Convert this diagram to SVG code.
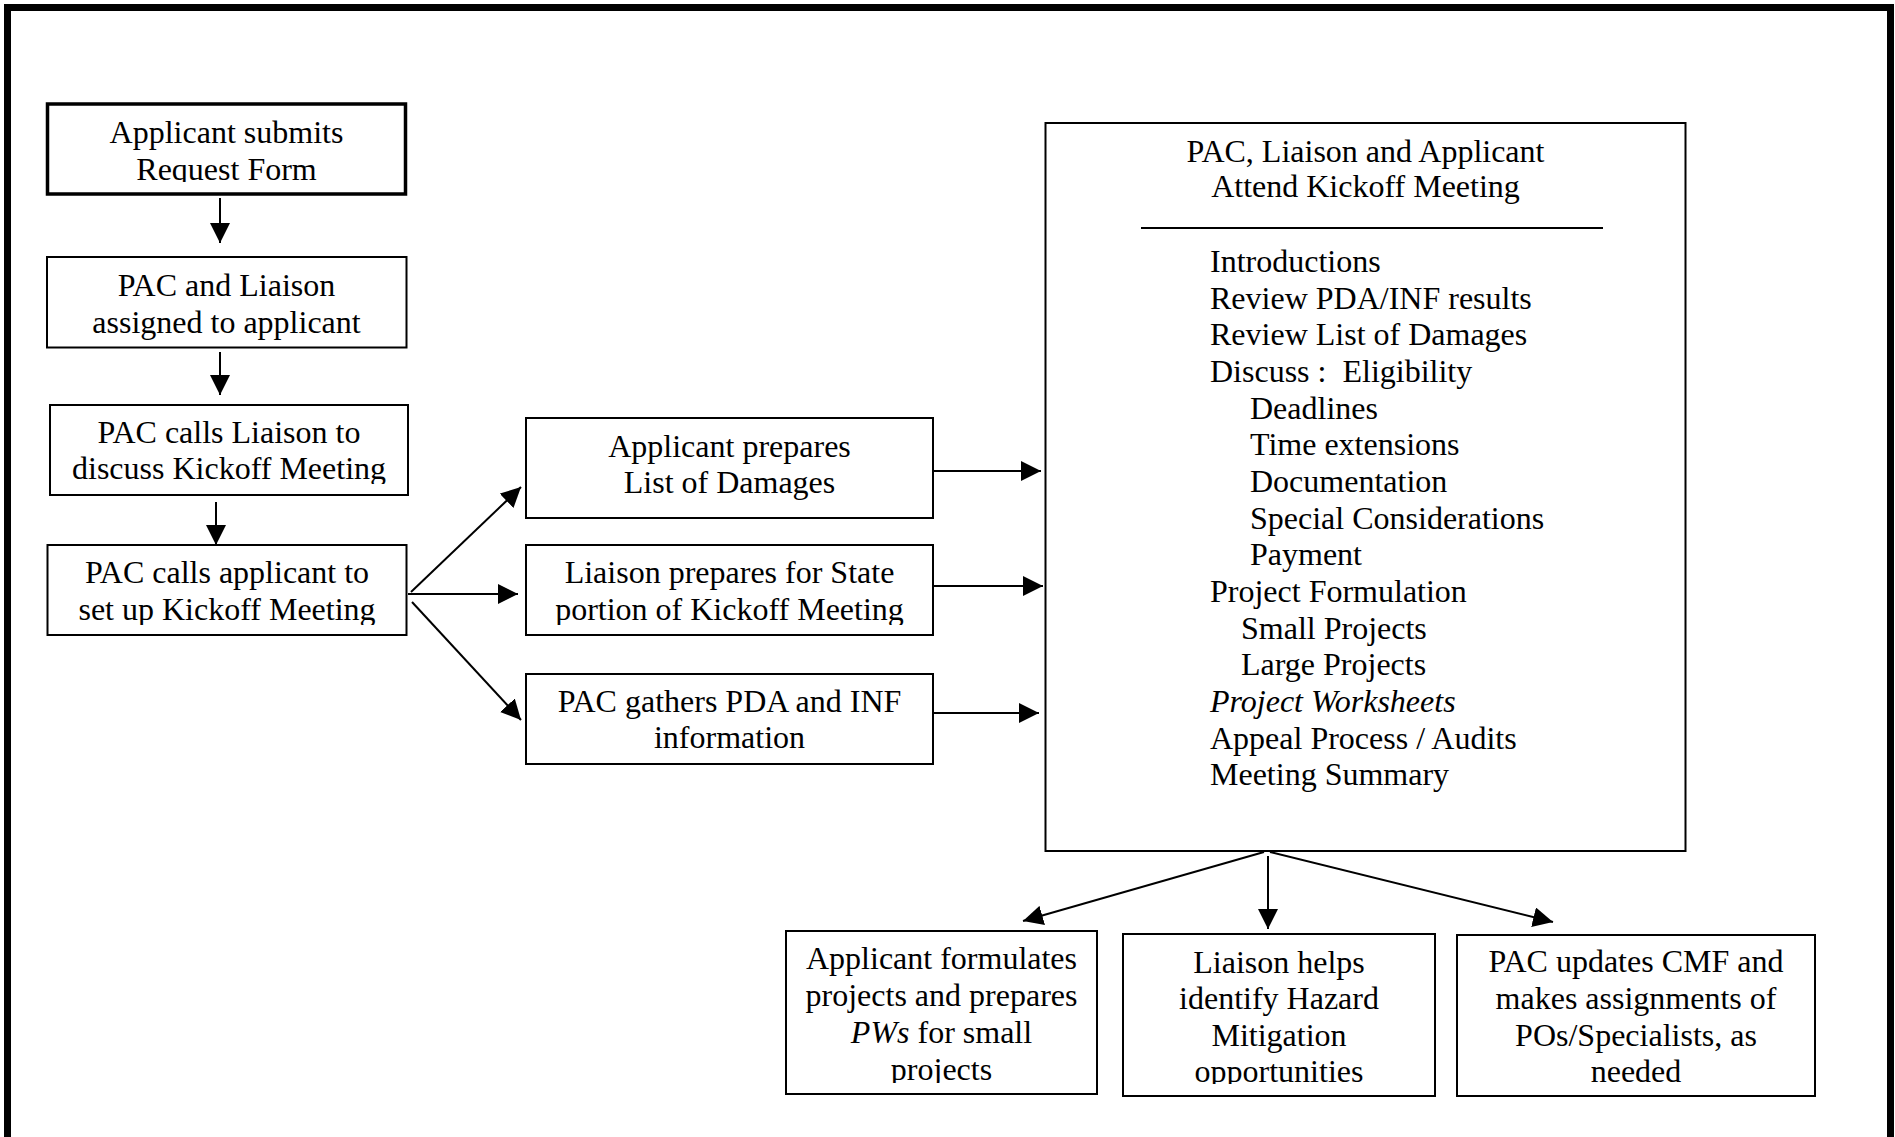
<svg xmlns="http://www.w3.org/2000/svg" width="1895" height="1137" viewBox="0 0 1895 1137">
<style>
.box{fill:#fff;stroke:#000;stroke-width:2}
.thick{stroke-width:3.5}
.t{font-family:"Liberation Serif","Times New Roman",serif;font-size:32px;fill:#000}
.c{text-anchor:middle}
.i{font-style:italic}
.ln{stroke:#000;stroke-width:2;fill:none}
.arr{stroke:#000;stroke-width:2;fill:none;marker-end:url(#ah)}
</style>
<defs>
<marker id="ah" viewBox="0 0 20 20" refX="20" refY="10" markerWidth="20" markerHeight="20" markerUnits="userSpaceOnUse" orient="auto">
<path d="M0,0 L20,10 L0,20 z" fill="#000"/>
</marker>
<clipPath id="c1" clipPathUnits="userSpaceOnUse"><rect x="47" y="104" width="358" height="78"/></clipPath>
<clipPath id="c3" clipPathUnits="userSpaceOnUse"><rect x="50" y="405" width="358" height="79"/></clipPath>
<clipPath id="c4" clipPathUnits="userSpaceOnUse"><rect x="47" y="545" width="359" height="80"/></clipPath>
<clipPath id="c6" clipPathUnits="userSpaceOnUse"><rect x="526" y="545" width="407" height="80"/></clipPath>
<clipPath id="cb1" clipPathUnits="userSpaceOnUse"><rect x="786" y="931" width="311" height="152"/></clipPath>
<clipPath id="cb2" clipPathUnits="userSpaceOnUse"><rect x="1123" y="934" width="312" height="150"/></clipPath>
</defs>
<rect x="0" y="0" width="1895" height="1137" fill="#fff"/>
<path d="M7.5,1145 V7.5 H1890.5 V1145" fill="none" stroke="#000" stroke-width="7"/>

<g id="connectors">
<line class="arr" x1="220" y1="198" x2="220" y2="243"/>
<line class="arr" x1="220" y1="352" x2="220" y2="395"/>
<line class="arr" x1="216" y1="502" x2="216" y2="545"/>
<line class="arr" x1="411" y1="592" x2="521" y2="487"/>
<line class="arr" x1="408" y1="594" x2="518" y2="594"/>
<line class="arr" x1="412" y1="602" x2="521" y2="720"/>
<line class="arr" x1="933" y1="471" x2="1041" y2="471"/>
<line class="arr" x1="933" y1="586" x2="1043" y2="586"/>
<line class="arr" x1="930" y1="713" x2="1039" y2="713"/>
<line class="arr" x1="1264" y1="852" x2="1023" y2="921"/>
<line class="arr" x1="1268" y1="856" x2="1268" y2="929"/>
<line class="arr" x1="1270" y1="852" x2="1553" y2="922"/>
</g>

<g id="n1">
<rect class="box thick" x="47.5" y="104" width="358" height="90"/>
<g clip-path="url(#c1)">
<text class="t c" x="226.5" y="143">Applicant submits</text>
<text class="t c" x="226.5" y="180">Request Form</text>
</g>
</g>

<g id="n2">
<rect class="box" x="47" y="257" width="359.5" height="90.5"/>
<text class="t c" x="226.5" y="296">PAC and Liaison</text>
<text class="t c" x="226.5" y="333">assigned to applicant</text>
</g>

<g id="n3">
<rect class="box" x="50" y="405" width="358" height="90"/>
<g clip-path="url(#c3)">
<text class="t c" x="229" y="443">PAC calls Liaison to</text>
<text class="t c" x="229" y="479">discuss Kickoff Meeting</text>
</g>
</g>

<g id="n4">
<rect class="box" x="47.5" y="545" width="359" height="90"/>
<g clip-path="url(#c4)">
<text class="t c" x="227" y="583">PAC calls applicant to</text>
<text class="t c" x="227" y="620">set up Kickoff Meeting</text>
</g>
</g>

<g id="n5">
<rect class="box" x="526" y="418" width="407" height="100"/>
<text class="t c" x="729.5" y="457">Applicant prepares</text>
<text class="t c" x="729.5" y="493">List of Damages</text>
</g>

<g id="n6">
<rect class="box" x="526" y="545" width="407" height="90"/>
<g clip-path="url(#c6)">
<text class="t c" x="729.5" y="583">Liaison prepares for State</text>
<text class="t c" x="729.5" y="620">portion of Kickoff Meeting</text>
</g>
</g>

<g id="n7">
<rect class="box" x="526" y="674" width="407" height="90"/>
<text class="t c" x="729.5" y="712">PAC gathers PDA and INF</text>
<text class="t c" x="729.5" y="748">information</text>
</g>

<g id="n8">
<rect class="box" x="1045.5" y="123" width="640" height="728"/>
<text class="t c" x="1365.5" y="162">PAC, Liaison and Applicant</text>
<text class="t c" x="1365.5" y="197">Attend Kickoff Meeting</text>
<line class="ln" x1="1141" y1="228" x2="1603" y2="228"/>
<text class="t" x="1210" y="272">Introductions</text>
<text class="t" x="1210" y="308.5">Review PDA/INF results</text>
<text class="t" x="1210" y="345">Review List of Damages</text>
<text class="t" x="1210" y="382" xml:space="preserve">Discuss :  Eligibility</text>
<text class="t" x="1250" y="418.5">Deadlines</text>
<text class="t" x="1250" y="455">Time extensions</text>
<text class="t" x="1250" y="492">Documentation</text>
<text class="t" x="1250" y="528.5">Special Considerations</text>
<text class="t" x="1250" y="565">Payment</text>
<text class="t" x="1210" y="602">Project Formulation</text>
<text class="t" x="1241" y="638.5">Small Projects</text>
<text class="t" x="1241" y="675">Large Projects</text>
<text class="t i" x="1210" y="712">Project Worksheets</text>
<text class="t" x="1210" y="748.5">Appeal Process / Audits</text>
<text class="t" x="1210" y="785">Meeting Summary</text>
</g>

<g id="n9">
<rect class="box" x="786" y="931" width="311" height="163"/>
<g clip-path="url(#cb1)">
<text class="t c" x="941.5" y="969">Applicant formulates</text>
<text class="t c" x="941.5" y="1006">projects and prepares</text>
<text class="t c" x="941.5" y="1043"><tspan class="i">PWs</tspan> for small</text>
<text class="t c" x="941.5" y="1080">projects</text>
</g>
</g>

<g id="n10">
<rect class="box" x="1123" y="934" width="312" height="162"/>
<g clip-path="url(#cb2)">
<text class="t c" x="1279" y="973">Liaison helps</text>
<text class="t c" x="1279" y="1009">identify Hazard</text>
<text class="t c" x="1279" y="1046">Mitigation</text>
<text class="t c" x="1279" y="1082">opportunities</text>
</g>
</g>

<g id="n11">
<rect class="box" x="1457" y="935" width="358" height="161"/>
<text class="t c" x="1636" y="972">PAC updates CMF and</text>
<text class="t c" x="1636" y="1009">makes assignments of</text>
<text class="t c" x="1636" y="1046">POs/Specialists, as</text>
<text class="t c" x="1636" y="1082">needed</text>
</g>
</svg>
